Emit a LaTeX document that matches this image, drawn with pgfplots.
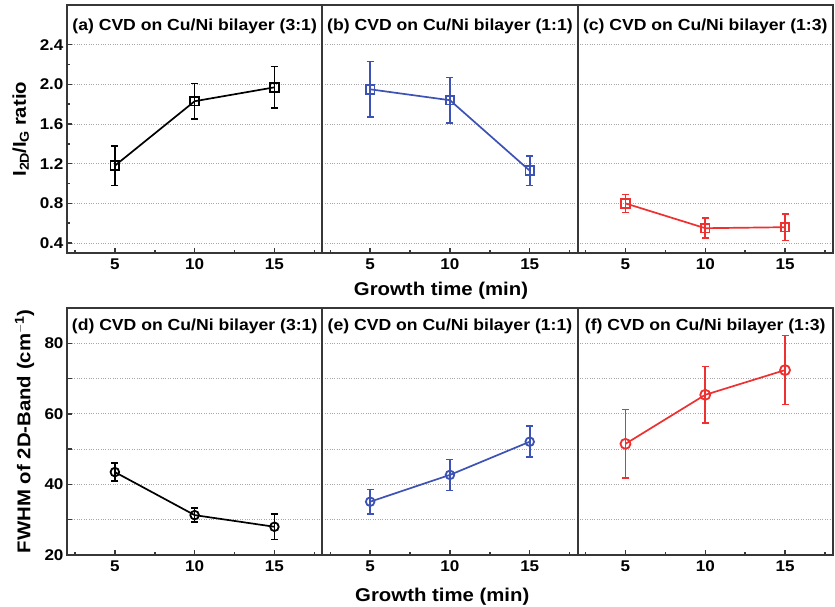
\documentclass[border=0pt]{standalone}
\usepackage{pgfplots}
\pgfplotsset{compat=1.18}
\usepgfplotslibrary{groupplots}
\usepackage{fontspec}
\setmainfont{Liberation Sans}[FakeStretch=1.1]
\definecolor{cblue}{RGB}{60,82,180}
\definecolor{cred}{RGB}{238,48,48}
\definecolor{frame}{RGB}{55,55,55}
\tikzset{ttl/.style={font=\fontsize{16}{18}\selectfont\bfseries}}
\begin{document}
\begin{tikzpicture}
\pgfplotsset{
  every axis/.append style={
    scale only axis,
    axis line style={frame, line width=2pt},
    every outer x axis line/.append style={frame, line width=2pt},
    every outer y axis line/.append style={frame, line width=2pt},
    tick style={frame, line width=1.5pt},
    major tick length=5pt, minor tick length=3pt,
    tick align=inside,
    xtick pos=bottom, ytick pos=left,
    xmin=2, xmax=18,
    xtick={5,10,15},
    minor xtick={2.5,7.5,12.5,17.5},
    ymajorgrids,
    major grid style={gray!70, dotted, line width=1pt},
    font=\fontsize{15.5}{18}\selectfont\bfseries,
    /pgf/number format/assume math mode=true,
    xticklabel style={yshift=-2pt},
  },
  dat/.style={line width=1.7pt, mark size=4.3pt, mark options={line width=1.8pt, fill=white, solid},
    error bars/y dir=both, error bars/y explicit,
    error bars/error bar style={line width=1.6pt},
    error bars/error mark options={rotate=90, mark size=3.5pt, line width=1.6pt}},
}
\begin{groupplot}[group style={group size=3 by 2, horizontal sep=0pt, vertical sep=55pt},
  width=255.3pt]
% ---------- top row
\nextgroupplot[height=248pt, ymin=0.3, ymax=2.8,
  ytick={0.4,0.8,1.2,1.6,2.0,2.4}, minor ytick={0.6,1.0,1.4,1.8,2.2},
  yticklabel style={/pgf/number format/.cd, fixed, fixed zerofill, precision=1},
  ylabel={I$_{\mathbf{2D}}$/I$_{\mathbf{G}}$ ratio},
  ylabel style={at={(axis description cs:-0.135,0.5)}, anchor=south, font=\fontsize{18.5}{20}\selectfont\bfseries}]
\node[ttl] at (axis description cs:0.5,0.912) {(a) CVD on Cu/Ni bilayer (3:1)};
\addplot[black, dat, mark=square] coordinates {
  (5,1.18) +- (0,0.20)
  (10,1.83) +- (0,0.18)
  (15,1.97) +- (0,0.21)
};
\nextgroupplot[height=248pt, ymin=0.3, ymax=2.8,
  ytick={0.4,0.8,1.2,1.6,2.0,2.4}, yticklabels={}, ytick style={draw=none}, minor ytick={},
  xlabel={Growth time (min)},
  xlabel style={at={(axis description cs:0.465,-0.105)}, anchor=north, font=\fontsize{18.5}{20}\selectfont\bfseries}]
\node[ttl] at (axis description cs:0.5,0.912) {(b) CVD on Cu/Ni bilayer (1:1)};
\addplot[cblue, dat, mark=square] coordinates {
  (5,1.95) +- (0,0.28)
  (10,1.84) +- (0,0.23)
  (15,1.13) +- (0,0.15)
};
\nextgroupplot[height=248pt, ymin=0.3, ymax=2.8,
  ytick={0.4,0.8,1.2,1.6,2.0,2.4}, yticklabels={}, ytick style={draw=none}, minor ytick={}]
\node[ttl] at (axis description cs:0.5,0.912) {(c) CVD on Cu/Ni bilayer (1:3)};
\addplot[cred, dat, mark=square] coordinates {
  (5,0.80) +- (0,0.09)
  (10,0.55) +- (0,0.10)
  (15,0.56) +- (0,0.135)
};
% ---------- bottom row
\nextgroupplot[height=247pt, ymin=20, ymax=90,
  ytick={20,30,...,80}, yticklabels={20,,40,,60,,80},
  ylabel={FWHM of 2D-Band (cm$^{\mathbf{-1}}$)},
  ylabel style={at={(axis description cs:-0.115,0.5)}, anchor=south, font=\fontsize{18.5}{20}\selectfont\bfseries}]
\node[ttl] at (axis description cs:0.5,0.925) {(d) CVD on Cu/Ni bilayer (3:1)};
\addplot[black, dat, mark=o] coordinates {
  (5,43.5) +- (0,2.6)
  (10,31.3) +- (0,2.0)
  (15,28.0) +- (0,3.6)
};
\nextgroupplot[height=247pt, ymin=20, ymax=90,
  ytick={20,30,...,80}, yticklabels={}, ytick style={draw=none},
  xlabel={Growth time (min)},
  xlabel style={at={(axis description cs:0.47,-0.12)}, anchor=north, font=\fontsize{18.5}{20}\selectfont\bfseries}]
\node[ttl] at (axis description cs:0.5,0.925) {(e) CVD on Cu/Ni bilayer (1:1)};
\addplot[cblue, dat, mark=o] coordinates {
  (5,35.1) +- (0,3.5)
  (10,42.7) +- (0,4.4)
  (15,52.1) +- (0,4.4)
};
\nextgroupplot[height=247pt, ymin=20, ymax=90,
  ytick={20,30,...,80}, yticklabels={}, ytick style={draw=none}]
\node[ttl] at (axis description cs:0.5,0.925) {(f) CVD on Cu/Ni bilayer (1:3)};
\addplot[cred, dat, mark=o, mark size=5pt] coordinates {
  (5,51.5) +- (0,9.7)
  (10,65.4) +- (0,8.0)
  (15,72.4) +- (0,9.8)
};
\end{groupplot}
\pgfresetboundingbox
\path[use as bounding box] (group c1r1.north west) ++(-67pt,5pt) rectangle ++(835pt,-607pt);
\end{tikzpicture}
\end{document}
